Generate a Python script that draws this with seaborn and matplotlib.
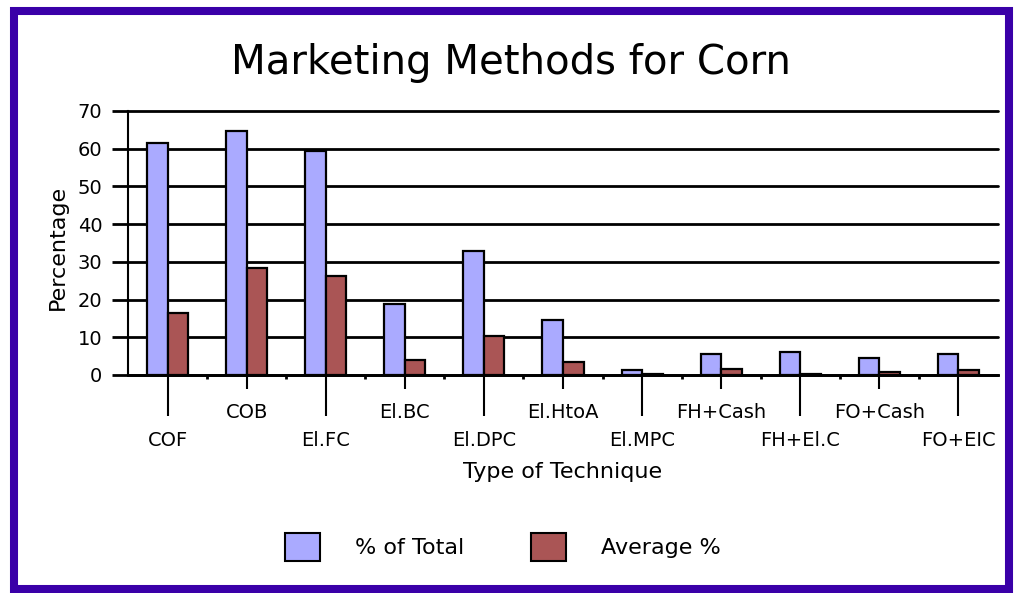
import numpy as np
import pandas as pd
import matplotlib
matplotlib.use("Agg")
import matplotlib.pyplot as plt
import seaborn as sns
from matplotlib.patches import Patch, Rectangle

techniques = ["COF", "COB", "El.FC", "El.BC", "El.DPC", "El.HtoA", "El.MPC",
              "FH+Cash", "FH+El.C", "FO+Cash", "FO+EIC"]
pct_total = [61.5, 64.7, 59.4, 18.7, 33.0, 14.5, 1.3, 5.5, 6.0, 4.4, 5.6]
avg_pct = [16.5, 28.3, 26.2, 4.1, 10.3, 3.4, 0.3, 1.7, 0.3, 0.7, 1.2]
series_names = ["% of Total", "Average %"]
series_colors = ["#AAAAFF", "#AA5555"]
y_ticks = [0, 10, 20, 30, 40, 50, 60, 70]
title = "Marketing Methods for Corn"
x_label = "Type of Technique"
y_label = "Percentage"

df = pd.DataFrame({
    "Technique": techniques * 2,
    "Value": pct_total + avg_pct,
    "Series": [series_names[0]] * len(techniques) + [series_names[1]] * len(techniques),
})

sns.set_theme(style="white")
plt.rcParams["font.family"] = ["DejaVu Sans"]
plt.rcParams["text.color"] = "black"

W, H = 1015, 593
fig = plt.figure(figsize=(W / 100, H / 100), dpi=100)
fig.patch.set_facecolor("white")
ax = fig.add_axes([128 / W, 1 - 375 / H, (998 - 128) / W, (375 - 111) / H])

sns.barplot(data=df, x="Technique", y="Value", hue="Series", order=techniques,
            hue_order=series_names, palette=series_colors, width=0.52,
            edgecolor="black", linewidth=1.6, saturation=1, legend=False, ax=ax)

ax.set_ylim(0, 70)
ax.set_xlim(-0.5, len(techniques) - 0.5)
ax.set_yticks(y_ticks)
ax.set_yticklabels([str(v) for v in y_ticks], fontsize=14, color="black")
ax.yaxis.grid(True, color="black", linewidth=2)
ax.set_axisbelow(True)
for gl in ax.get_ygridlines():
    gl.set_clip_on(False)
for s in ["top", "right"]:
    ax.spines[s].set_visible(False)
ax.spines["left"].set_color("black")
ax.spines["left"].set_linewidth(1.5)
ax.spines["bottom"].set_color("black")
ax.spines["bottom"].set_linewidth(2)

ax.tick_params(axis="y", which="major", direction="out", length=11.5, width=2,
               color="black", pad=7, left=True)

pos = np.arange(len(techniques))
ax.set_xticks(pos[::2])
ax.set_xticklabels(techniques[::2], fontsize=14, color="black")
ax.set_xticks(pos[1::2], minor=True)
ax.set_xticklabels(techniques[1::2], minor=True, fontsize=14, color="black")
ax.tick_params(axis="x", which="major", direction="out", length=29.5, width=1.5,
               color="black", pad=10.5, bottom=True)
ax.tick_params(axis="x", which="minor", direction="out", length=10, width=1.5,
               color="black", pad=10, bottom=True)

sec = ax.secondary_xaxis("bottom")
sec.set_xticks(pos[:-1] + 0.5)
sec.set_xticklabels([])
sec.tick_params(axis="x", direction="out", length=3, width=2, color="black")
sec.spines["bottom"].set_visible(False)

ax.set_xlabel(x_label, fontsize=16, color="black")
ax.xaxis.set_label_coords(0.5, (375 - 472) / 264)
ax.xaxis.label.set_va("center")
ax.set_ylabel(y_label, fontsize=16, color="black")
ax.yaxis.set_label_coords((58 - 128) / 870, (375 - 247) / 264)
ax.yaxis.label.set_va("center")

fig.text(511 / W, 1 - 63 / H, title, ha="center", va="center", fontsize=29, color="black")

handles = [Patch(facecolor=c, edgecolor="black", linewidth=1.5) for c in series_colors]
fig.legend(handles, series_names, loc="center", bbox_to_anchor=(503 / W, 1 - 547 / H),
           ncol=2, frameon=False, fontsize=16, handlelength=1.55, handleheight=1.55,
           handletextpad=1.6, columnspacing=3.0, labelcolor="black")

fig.patches.append(Rectangle((14 / W, 1 - 589 / H), (1009 - 14) / W, (589 - 11) / H,
                             transform=fig.transFigure, fill=False,
                             edgecolor="#3A00A8", linewidth=5.8))

fig.savefig("out.png", dpi=100, facecolor="white")
